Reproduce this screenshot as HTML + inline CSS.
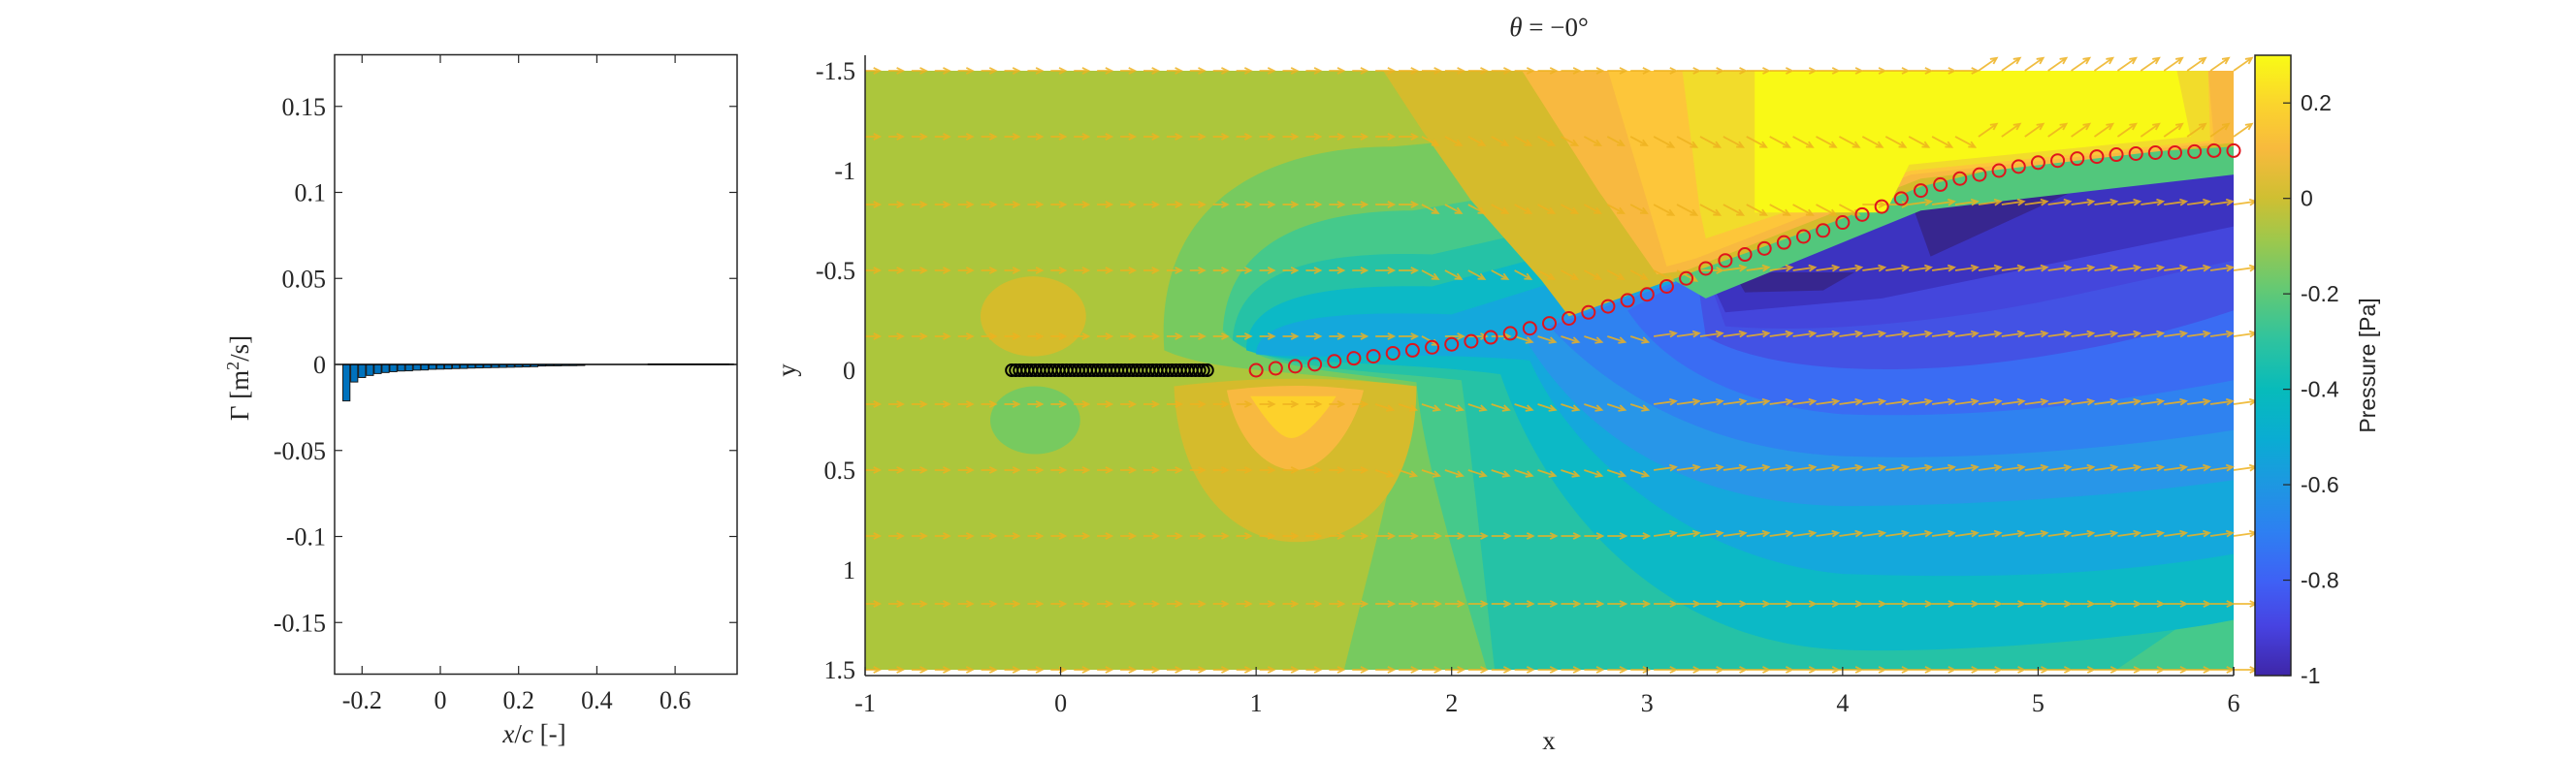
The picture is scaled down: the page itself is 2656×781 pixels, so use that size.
<!DOCTYPE html>
<html><head><meta charset="utf-8">
<style>
html,body{margin:0;padding:0;background:#fff;}
svg{display:block;}
.ser{font-family:"Liberation Serif",serif;fill:#262626;}
.san{font-family:"Liberation Sans",sans-serif;fill:#262626;}
</style></head>
<body>
<svg id="fig" width="2656" height="781" viewBox="0 0 2656 781" xmlns="http://www.w3.org/2000/svg">
<defs>
  <clipPath id="dataClip"><rect x="892" y="73" width="1411" height="618"/></clipPath>
  <linearGradient id="parula" x1="0" y1="1" x2="0" y2="0">
    <stop offset="0" stop-color="#3e26a8"/><stop offset="0.08" stop-color="#4743e2"/>
    <stop offset="0.15" stop-color="#3f60f5"/><stop offset="0.23" stop-color="#2e7ff2"/>
    <stop offset="0.31" stop-color="#1d98e1"/><stop offset="0.38" stop-color="#0aacd3"/>
    <stop offset="0.46" stop-color="#07bbbb"/><stop offset="0.54" stop-color="#2ec39f"/>
    <stop offset="0.62" stop-color="#62c975"/><stop offset="0.70" stop-color="#9cc84d"/>
    <stop offset="0.77" stop-color="#cfbf32"/><stop offset="0.85" stop-color="#f8ba3d"/>
    <stop offset="0.92" stop-color="#fad42d"/><stop offset="1" stop-color="#f9fb15"/>
  </linearGradient>
</defs>

<!-- ===== Left bar chart ===== -->
<g id="leftAx">
  <rect x="345" y="56.5" width="415" height="639" fill="#fff"/>
  <g id="bars"></g>
  <g id="leftTicks"></g>
  <rect x="345" y="56.5" width="415" height="639" fill="none" stroke="#262626" stroke-width="1.5"/>
  <text class="ser" font-size="27" text-anchor="middle" transform="translate(256,390) rotate(-90)">Γ [m<tspan font-size="18" dy="-10">2</tspan><tspan dy="10">/s]</tspan></text>
  <text class="ser" font-size="27" x="551" y="766" text-anchor="middle"><tspan font-style="italic">x</tspan>/<tspan font-style="italic">c</tspan> [-]</text>
</g>

<!-- ===== Main contour plot ===== -->
<g id="mainAx">
  <g clip-path="url(#dataClip)">
    <g transform="translate(1093.57,382) scale(201.57,206)">
      <rect x="-1" y="-1.5" width="7" height="3" fill="#acc63c"/>
      <ellipse cx="-0.14" cy="-0.27" rx="0.27" ry="0.2" fill="#d5bc2b"/>
      <ellipse cx="-0.13" cy="0.25" rx="0.23" ry="0.17" fill="#77ca5f"/>
      <path d="M0.53,-0.1 C0.48,-0.8 1.0,-1.12 1.7,-1.12 L6,-1.5 L6,1.5 L1.45,1.5 C1.6,0.9 1.75,0.4 1.75,0.08 C1.3,0.0 0.8,0.02 0.53,-0.1Z" fill="#77ca5f"/>
      <path d="M0.83,-0.2 C0.85,-0.6 1.2,-0.8 1.8,-0.8 L6,-1.5 L6,1.5 L2.18,1.5 C2.0,0.9 1.85,0.4 1.82,0.06 C1.4,0.0 1.0,0.0 0.83,-0.2Z" fill="#45c98b"/>
      <path d="M0.88,-0.15 C0.9,-0.5 1.3,-0.6 1.9,-0.58 L6,-1.5 L6,1.1 L5.4,1.5 L2.22,1.5 C2.15,0.9 2.1,0.4 2.05,0.05 C1.6,0.0 1.1,0.0 0.88,-0.15Z" fill="#25c2a6"/>
      <path d="M0.95,-0.1 C0.95,-0.36 1.3,-0.43 1.9,-0.42 L6,-1.5 L6,1.25 C5.5,1.35 4.5,1.42 4.0,1.4 C3.0,1.36 2.45,0.6 2.25,0.02 C1.7,-0.05 1.2,-0.02 0.95,-0.1Z" fill="#0cb9c6"/>
      <path d="M1.0,-0.08 C1.0,-0.26 1.4,-0.3 2.0,-0.28 L6,-1.5 L6,0.92 C5.3,1.04 4.6,1.04 4.0,1.02 C3.2,0.95 2.6,0.4 2.4,-0.05 C1.8,-0.1 1.3,-0.05 1.0,-0.08Z" fill="#14a8dc"/>
      <path d="M2.35,-0.2 L3.2,-0.46 L6,-1.15 L6,0.55 C5.5,0.62 4.7,0.68 4.0,0.68 C3.3,0.67 2.7,0.4 2.35,-0.2Z" fill="#2896e8"/>
      <path d="M2.5,-0.22 L3.2,-0.46 L6,-1.15 L6,0.3 C5.2,0.42 4.5,0.45 4.0,0.43 C3.3,0.4 2.8,0.1 2.5,-0.22Z" fill="#2f82f0"/>
      <path d="M2.9,-0.3 L3.2,-0.46 L6,-1.15 L6,0.05 C5.2,0.2 4.5,0.24 4.0,0.22 C3.5,0.18 3.1,0.0 2.9,-0.3Z" fill="#3a6cf3"/>
      <path d="M3.25,-0.5 L3.3,-0.17 C3.6,0.0 4.2,0.03 4.8,-0.04 C5.3,-0.1 5.7,-0.2 6,-0.3 L6,-1.15 L4.3,-0.88 Z" fill="#4352e4"/>
      <path d="M3.3,-0.5 L3.4,-0.22 C3.9,-0.18 4.6,-0.25 5.2,-0.38 L6,-0.55 L6,-1.15 L4.3,-0.88 Z" fill="#4446dc"/>
      <path d="M3.3,-0.5 L4.2,-0.72 L4.3,-0.88 L6,-1.1 L6,-0.72 L5,-0.52 L4.2,-0.36 L3.4,-0.29Z" fill="#3c33c0"/>
      <path d="M3.44,-0.49 L4.06,-0.49 L3.9,-0.4 L3.5,-0.39Z" fill="#37268f"/>
      <path d="M4.34,-0.87 L5.3,-0.95 L4.45,-0.57Z" fill="#37268f"/>
      <path d="M0.58,0.08 C0.6,0.6 0.9,0.86 1.2,0.86 C1.55,0.86 1.82,0.6 1.82,0.08 C1.4,0.03 1.0,0.03 0.58,0.08Z" fill="#d5bb2c"/>
      <path d="M0.85,0.1 C0.9,0.35 1.05,0.5 1.2,0.5 C1.35,0.5 1.5,0.3 1.55,0.1 C1.3,0.07 1.1,0.07 0.85,0.1Z" fill="#f8b940"/>
      <path d="M0.97,0.13 C1.05,0.25 1.12,0.34 1.18,0.34 C1.25,0.34 1.35,0.22 1.41,0.13Z" fill="#fdd12b"/>
      <path d="M3.05,-0.5 L3.25,-0.78 L4.3,-1.05 L6,-1.22 L6,-0.98 L4.4,-0.8 L3.3,-0.36Z" fill="#52c77c"/>
      <path d="M1.65,-1.5 L6,-1.5 L6,-1.12 L5,-1.06 L4.4,-0.92 L4.0,-0.76 L3.2,-0.48 L2.6,-0.27 L2.46,-0.45 L2.1,-0.85 L1.85,-1.2Z" fill="#d5bb2c"/>
      <path d="M2.36,-1.5 L6,-1.5 L6,-1.14 L4.4,-0.96 L3.2,-0.5 L3.05,-0.48 L2.75,-0.9Z" fill="#f8b940"/>
      <path d="M2.8,-1.5 L5.87,-1.5 L5.9,-1.14 L4.35,-0.98 L3.25,-0.56 L3.1,-0.52Z" fill="#fdc63a"/>
      <path d="M3.18,-1.5 L5.87,-1.5 L5.88,-1.15 L4.35,-1.0 L3.3,-0.66 L3.27,-0.8Z" fill="#f2dc2b"/>
      <path d="M3.55,-1.5 L5.71,-1.5 L5.78,-1.17 L4.34,-1.03 L4.22,-0.79 L3.55,-0.79Z" fill="#f9f916"/>
    </g>
  </g>
  <g id="quiver"></g>
  <g id="plate"></g>
  <g id="wake"></g>
  <g id="mainTicks"></g>
  <line x1="892" y1="57" x2="892" y2="697" stroke="#262626" stroke-width="1.5"/>
  <line x1="892" y1="697" x2="2303" y2="697" stroke="#262626" stroke-width="1.5"/>
  <line x1="2303" y1="688" x2="2303" y2="697" stroke="#262626" stroke-width="1.5"/>
  <text class="ser" font-size="27" x="1597" y="37" text-anchor="middle"><tspan font-style="italic">θ</tspan> = −0°</text>
  <text class="ser" font-size="27" x="1597" y="773" text-anchor="middle">x</text>
  <text class="ser" font-size="27" text-anchor="middle" transform="translate(820,382) rotate(-90)">y</text>
</g>

<!-- ===== Colorbar ===== -->
<g id="cbar">
  <rect x="2325" y="57" width="37" height="640" fill="url(#parula)" stroke="#262626" stroke-width="1.5"/>
  <g id="cbTicks"></g>
  <text class="san" font-size="23" text-anchor="middle" transform="translate(2449,377) rotate(-90)">Pressure [Pa]</text>
</g>
</svg>

<script>
// ---- Bar chart data ----
const barX = [-0.24,-0.22,-0.20,-0.18,-0.16,-0.14,-0.12,-0.10,-0.08,-0.06,-0.04,-0.02,0.00,0.02,0.04,0.06,0.08,0.10,0.12,0.14,0.16,0.18,0.20,0.22,0.24,0.26,0.28,0.30,0.32,0.34,0.36,0.38,0.40,0.42,0.44,0.46,0.48,0.50,0.52,0.54,0.56,0.58,0.60,0.62,0.64,0.66,0.68,0.70,0.72,0.74];
const barGamma = [-0.0212,-0.0102,-0.0076,-0.0064,-0.0053,-0.0047,-0.0042,-0.0038,-0.0037,-0.0033,-0.0032,-0.0028,-0.0027,-0.0026,-0.0024,-0.0023,-0.0021,-0.0020,-0.0019,-0.0018,-0.0017,-0.0016,-0.0015,-0.0014,-0.0013,-0.0009,-0.0008,-0.0008,-0.0007,-0.0007,-0.0006,0,0,0,0,0,0,0,0,0.0003,0.0003,0.0003,0.0003,0.0003,0.0003,0.0003,0.0003,0.0003,0.0003,0.0003];
const barXTicks = [-0.2,0,0.2,0.4,0.6];
const barXTickLabels = ["-0.2","0","0.2","0.4","0.6"];
const barYTicks = [-0.15,-0.1,-0.05,0,0.05,0.1,0.15];
const barYTickLabels = ["-0.15","-0.1","-0.05","0","0.05","0.1","0.15"];

// ---- Main plot data ----
const plateX = [-0.25,-0.23,-0.21,-0.19,-0.17,-0.15,-0.13,-0.11,-0.09,-0.07,-0.05,-0.03,-0.01,0.01,0.03,0.05,0.07,0.09,0.11,0.13,0.15,0.17,0.19,0.21,0.23,0.25,0.27,0.29,0.31,0.33,0.35,0.37,0.39,0.41,0.43,0.45,0.47,0.49,0.51,0.53,0.55,0.57,0.59,0.61,0.63,0.65,0.67,0.69,0.71,0.73,0.75];
const wakeX = [1.0,1.1,1.2,1.3,1.4,1.5,1.6,1.7,1.8,1.9,2.0,2.1,2.2,2.3,2.4,2.5,2.6,2.7,2.8,2.9,3.0,3.1,3.2,3.3,3.4,3.5,3.6,3.7,3.8,3.9,4.0,4.1,4.2,4.3,4.4,4.5,4.6,4.7,4.8,4.9,5.0,5.1,5.2,5.3,5.4,5.5,5.6,5.7,5.8,5.9,6.0];
const wakeY = [0.0,-0.01,-0.02,-0.03,-0.045,-0.06,-0.07,-0.085,-0.1,-0.115,-0.13,-0.145,-0.165,-0.185,-0.21,-0.235,-0.26,-0.29,-0.32,-0.35,-0.38,-0.42,-0.46,-0.51,-0.55,-0.58,-0.61,-0.64,-0.67,-0.70,-0.74,-0.78,-0.82,-0.86,-0.9,-0.93,-0.96,-0.98,-1.0,-1.02,-1.04,-1.05,-1.06,-1.07,-1.08,-1.085,-1.09,-1.09,-1.095,-1.1,-1.1];
const quiverRows = [-1.5,-1.17,-0.83,-0.5,-0.17,0.17,0.5,0.83,1.17,1.5];
const mainXTicks = [-1,0,1,2,3,4,5,6];
const mainYTicks = [-1.5,-1,-0.5,0,0.5,1,1.5];
const mainYTickLabels = ["-1.5","-1","-0.5","0","0.5","1","1.5"];
const cbTicks = [0.2,0,-0.2,-0.4,-0.6,-0.8,-1];
const cbTickLabels = ["0.2","0","-0.2","-0.4","-0.6","-0.8","-1"];

const NS = "http://www.w3.org/2000/svg";
function mk(tag, attrs, parent){const e=document.createElementNS(NS,tag);for(const k in attrs)e.setAttribute(k,attrs[k]);parent.appendChild(e);return e;}

// left axis scales
const bx = v => 454 + (v)*403.5;
const by = v => 376 - v*1775;
const bars = document.getElementById('bars');
const bw = 0.018*403.5;
barX.forEach((x,i)=>{
  const v = barGamma[i];
  if (v === 0) return;
  const y0 = by(0), y1 = by(v);
  const r = mk('rect',{x:bx(x)-bw/2,y:Math.min(y0,y1),width:bw,height:Math.max(Math.abs(y1-y0),0.8),fill:'#0072bd',stroke:'#1a1a1a','stroke-width':1},bars);
  
  
});
const base = mk('line',{x1:345,y1:by(0),x2:760,y2:by(0),stroke:'#000','stroke-width':1.5},bars);



const lt = document.getElementById('leftTicks');
barXTicks.forEach((t,i)=>{
  const x = bx(t);
  mk('line',{x1:x,y1:695.5,x2:x,y2:687,stroke:'#262626','stroke-width':1.2},lt);
  mk('line',{x1:x,y1:56.5,x2:x,y2:65,stroke:'#262626','stroke-width':1.2},lt);
  const tx = mk('text',{x:x,y:731,'text-anchor':'middle','font-size':26,class:'ser'},lt);
  tx.textContent = barXTickLabels[i];
  
  
});
barYTicks.forEach((t,i)=>{
  const y = by(t);
  mk('line',{x1:345,y1:y,x2:353,y2:y,stroke:'#262626','stroke-width':1.2},lt);
  mk('line',{x1:760,y1:y,x2:752,y2:y,stroke:'#262626','stroke-width':1.2},lt);
  const tx = mk('text',{x:336,y:y+9,'text-anchor':'end','font-size':26,class:'ser'},lt);
  tx.textContent = barYTickLabels[i];
  
  
});

// main axis scales
const mx = v => 892 + (v+1)*201.57;
const my = v => 382 + v*206;

// quiver
const qg = document.getElementById('quiver');
function lineYAt(x){ if(x<=wakeX[0]) return 0; for(let i=1;i<wakeX.length;i++){ if(x<=wakeX[i]){const t=(x-wakeX[i-1])/(wakeX[i]-wakeX[i-1]);return wakeY[i-1]+t*(wakeY[i]-wakeY[i-1]);} } return wakeY[wakeY.length-1]; }
quiverRows.forEach((ry,ri)=>{
  for(let k=0;k<60;k++){
    const x = -1 + k*7/59;
    let ang = 0, len = 15;
    const ly = lineYAt(x);
    if (x>1.5) len = 19;
    if (x>3) len = 23;
    if (ry < ly - 0.05 && x > 1.8 && x < 4.6 && ry > -1.4) { ang = 28; }
    else if (ry <= -1.1 && x > 4.6) { ang = -35; }
    else if (ry < ly - 0.05 && x >= 4.6) { ang = -30; }
    else if (ry > ly && x > 1.6 && x < 3.0 && ry < 0.6) { ang = 18; }
    else if (ry > ly && x >= 3.0 && ry < 1.0) { ang = -8; }
    const a = ang*Math.PI/180;
    const x0 = mx(x), y0 = my(ry);
    const x1 = x0 + len*Math.cos(a), y1 = y0 + len*Math.sin(a);
    const hx1 = x1 - 7*Math.cos(a-0.45), hy1 = y1 - 7*Math.sin(a-0.45);
    const hx2 = x1 - 7*Math.cos(a+0.45), hy2 = y1 - 7*Math.sin(a+0.45);
    const p = mk('path',{d:`M${x0},${y0}L${x1},${y1}M${hx1},${hy1}L${x1},${y1}L${hx2},${hy2}`,stroke:'#edb120','stroke-width':1.8,fill:'none',opacity:0.85},qg);
    
    
  }
});

// plate vortices
const pg = document.getElementById('plate');
plateX.forEach(x=>{
  const c = mk('circle',{cx:mx(x),cy:my(0),r:6,fill:'none',stroke:'#000','stroke-width':2},pg);
  
  
});
// wake vortices
const wg = document.getElementById('wake');
wakeX.forEach((x,i)=>{
  const c = mk('circle',{cx:mx(x),cy:my(wakeY[i]),r:6.5,fill:'none',stroke:'#e0141c','stroke-width':2},wg);
  
  
});

// main ticks
const mt = document.getElementById('mainTicks');
mainXTicks.forEach(t=>{
  const x = mx(t);
  mk('line',{x1:x,y1:697,x2:x,y2:688,stroke:'#262626','stroke-width':1.2},mt);
  const tx = mk('text',{x:x,y:734,'text-anchor':'middle','font-size':26,class:'ser'},mt);
  tx.textContent = String(t);
  
  
});
mainYTicks.forEach((t,i)=>{
  const y = my(t);
  const tx = mk('text',{x:882,y:y+9,'text-anchor':'end','font-size':26,class:'ser'},mt);
  tx.textContent = mainYTickLabels[i];
  
  
});

// colorbar ticks (range -1..0.3)
const cy = v => 697 - (v+1)/1.3*640;
const cbt = document.getElementById('cbTicks');
cbTicks.forEach((t,i)=>{
  const y = cy(t);
  mk('line',{x1:2354,y1:y,x2:2362,y2:y,stroke:'#262626','stroke-width':1.2},cbt);
  const tx = mk('text',{x:2372,y:y+8,'font-size':23,class:'san'},cbt);
  tx.textContent = cbTickLabels[i];
  
  
});
</script>
</body></html>
